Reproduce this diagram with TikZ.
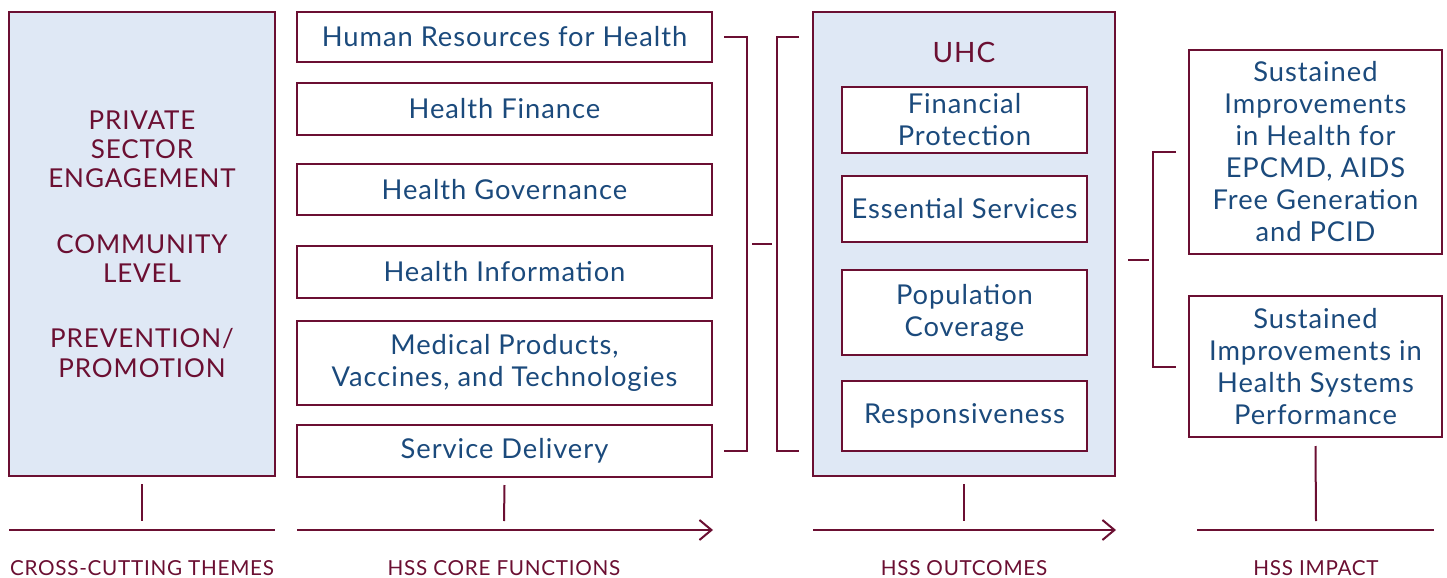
\documentclass[tikz,border=0pt]{standalone}
\usepackage{fontspec}
\setmainfont{Lato}[LetterSpace=3.5]
\usetikzlibrary{arrows.meta,calc}
\definecolor{maroon}{HTML}{6B0F32}
\definecolor{navy}{HTML}{1B4A7C}
\definecolor{pale}{HTML}{DFE8F5}
\begin{document}
\begin{tikzpicture}[x=0.75pt,y=-0.75pt,line width=1.5pt,
  box/.style={draw=maroon,fill=white,text=navy,align=center,inner sep=0pt,
    font=\fontsize{20.5}{24}\selectfont},
  bigbox/.style={draw=maroon,fill=pale,align=center,inner sep=0pt},
  link/.style={draw=maroon,line width=1.5pt},
  axis/.style={draw=maroon,line width=1.5pt},
  axisarrow/.style={axis,-{Straight Barb[length=9pt,width=15pt,line width=1.5pt]}},
  caption/.style={text=maroon,font=\fontsize{15.5}{17}\selectfont,inner sep=0pt},
  themes/.style={text=maroon,font=\fontsize{19.5}{22}\selectfont,align=center}]
\useasboundingbox (0,0) rectangle (1447,578);
% cross-cutting themes
\node[bigbox,minimum width=266*0.75pt,minimum height=464*0.75pt] (left) at (142,244) {};
\node[themes] (themestext) at (142,244) {PRIVATE\\SECTOR\\ENGAGEMENT\\[27pt]COMMUNITY\\LEVEL\\[27pt]PREVENTION/\\PROMOTION};
% core functions
\node[box,minimum width=415*0.75pt,minimum height=50*0.75pt] (hrh) at (504.5,37) {Human Resources for Health};
\node[box,minimum width=415*0.75pt,minimum height=52*0.75pt] (fin) at (504.5,109) {Health Finance};
\node[box,minimum width=415*0.75pt,minimum height=51*0.75pt] (gov) at (504.5,189.5) {Health Governance};
\node[box,minimum width=415*0.75pt,minimum height=52*0.75pt] (info) at (504.5,272) {Health Information};
\node[box,minimum width=415*0.75pt,minimum height=84*0.75pt] (med) at (504.5,363) {Medical Products,\\Vaccines, and Technologies};
\node[box,minimum width=415*0.75pt,minimum height=52*0.75pt] (sd) at (504.5,451) {Service Delivery};
% outcomes
\node[bigbox,minimum width=302*0.75pt,minimum height=464*0.75pt] (uhc) at (964,244) {};
\node[text=maroon,font=\fontsize{21}{24}\selectfont,inner sep=0pt] (uhctitle) at (964,52) {UHC};
\node[box,minimum width=245*0.75pt,minimum height=66*0.75pt] (fp) at (964.5,120) {Financial\\Protection};
\node[box,minimum width=245*0.75pt,minimum height=66*0.75pt] (es) at (964.5,209) {Essential Services};
\node[box,minimum width=245*0.75pt,minimum height=85*0.75pt] (pc) at (964.5,312.5) {Population\\Coverage};
\node[box,minimum width=245*0.75pt,minimum height=70*0.75pt] (resp) at (964.5,416) {Responsiveness};
% impact
\node[box,minimum width=253*0.75pt,minimum height=204*0.75pt] (imp1) at (1315.5,152) {Sustained\\Improvements\\in Health for\\EPCMD, AIDS\\Free Generation\\and PCID};
\node[box,minimum width=253*0.75pt,minimum height=141*0.75pt] (imp2) at (1315.5,366.5) {Sustained\\Improvements in\\Health Systems\\Performance};
% brackets
\coordinate (lbt) at (747,37);
\coordinate (lbb) at (747,451);
\draw[link] (hrh.east) ++(11,0) -- (lbt) -- (lbb) -- ($(sd.east)+(11,0)$);
\coordinate (mt1) at (752,244);
\coordinate (mt2) at (772,244);
\draw[link] (mt1) -- (mt2);
\coordinate (rbt) at (777,37);
\coordinate (rbb) at (777,451);
\draw[link] ($(uhc.west)+(-13,-207)$) -- (rbt) -- (rbb) -- ($(uhc.west)+(-13,207)$);
\coordinate (it1) at (1128,260);
\coordinate (it2) at (1149,260);
\draw[link] (it1) -- (it2);
\coordinate (ibt) at (1153,152);
\coordinate (ibb) at (1153,366.5);
\draw[link] ($(imp1.west)+(-12,0)$) -- (ibt) -- (ibb) -- ($(imp2.west)+(-12,0)$);
% bottom axes
\coordinate (a1s) at (9,530); \coordinate (a1e) at (275,530);
\coordinate (a2s) at (297,530); \coordinate (a2e) at (713,530);
\coordinate (a3s) at (813,530); \coordinate (a3e) at (1116,530);
\coordinate (a4s) at (1197,530); \coordinate (a4e) at (1434,530);
\draw[axis] (a1s) -- (a1e);
\draw[axisarrow] (a2s) -- (a2e);
\draw[axisarrow] (a3s) -- (a3e);
\draw[axis] (a4s) -- (a4e);
\coordinate (t1) at (142,521); \coordinate (t2) at (504,521);
\coordinate (t3) at (964,521); \coordinate (t4) at (1316,521);
\draw[link] ($(left.south)+(0,7)$) -- (t1);
\draw[link] ($(sd.south)+(0,7)$) -- (t2);
\draw[link] ($(uhc.south)+(0,7)$) -- (t3);
\draw[link] ($(imp2.south)+(0,8)$) -- (t4);
% captions
\node[caption] (c1) at (142,568) {CROSS-CUTTING THEMES};
\node[caption] (c2) at (504,568) {HSS CORE FUNCTIONS};
\node[caption] (c3) at (964,568) {HSS OUTCOMES};
\node[caption] (c4) at (1316,568) {HSS IMPACT};
\end{tikzpicture}
\end{document}
